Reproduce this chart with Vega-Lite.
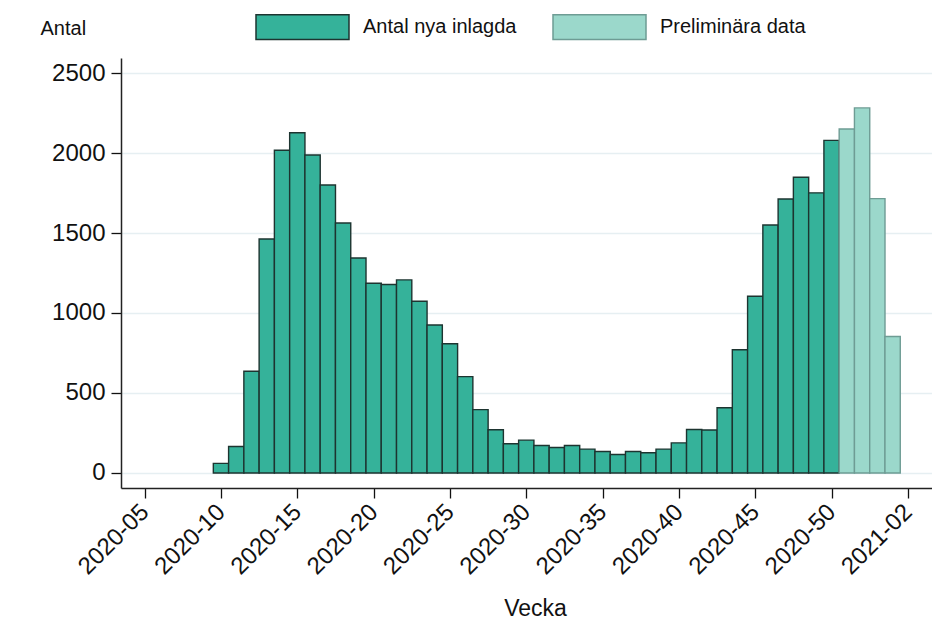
{
  "$schema": "https://vega.github.io/schema/vega-lite/v6.json",
  "width": 811,
  "height": 430,
  "autosize": "none",
  "padding": {"left": 121, "top": 58, "right": 0, "bottom": 142},
  "background": "white",
  "config": {
    "font": "Liberation Sans",
    "view": {"stroke": null},
    "axis": {"labelFont": "Liberation Sans", "titleFont": "Liberation Sans", "labelColor": "#111", "titleColor": "#111", "titleFontWeight": "normal"}
  },
  "data": {
    "values": [
      {"week": 10, "value": 60, "typ": "Antal nya inlagda"},
      {"week": 11, "value": 165, "typ": "Antal nya inlagda"},
      {"week": 12, "value": 636, "typ": "Antal nya inlagda"},
      {"week": 13, "value": 1463, "typ": "Antal nya inlagda"},
      {"week": 14, "value": 2017, "typ": "Antal nya inlagda"},
      {"week": 15, "value": 2127, "typ": "Antal nya inlagda"},
      {"week": 16, "value": 1988, "typ": "Antal nya inlagda"},
      {"week": 17, "value": 1800, "typ": "Antal nya inlagda"},
      {"week": 18, "value": 1563, "typ": "Antal nya inlagda"},
      {"week": 19, "value": 1344, "typ": "Antal nya inlagda"},
      {"week": 20, "value": 1186, "typ": "Antal nya inlagda"},
      {"week": 21, "value": 1178, "typ": "Antal nya inlagda"},
      {"week": 22, "value": 1207, "typ": "Antal nya inlagda"},
      {"week": 23, "value": 1073, "typ": "Antal nya inlagda"},
      {"week": 24, "value": 925, "typ": "Antal nya inlagda"},
      {"week": 25, "value": 808, "typ": "Antal nya inlagda"},
      {"week": 26, "value": 602, "typ": "Antal nya inlagda"},
      {"week": 27, "value": 396, "typ": "Antal nya inlagda"},
      {"week": 28, "value": 270, "typ": "Antal nya inlagda"},
      {"week": 29, "value": 183, "typ": "Antal nya inlagda"},
      {"week": 30, "value": 205, "typ": "Antal nya inlagda"},
      {"week": 31, "value": 172, "typ": "Antal nya inlagda"},
      {"week": 32, "value": 159, "typ": "Antal nya inlagda"},
      {"week": 33, "value": 172, "typ": "Antal nya inlagda"},
      {"week": 34, "value": 149, "typ": "Antal nya inlagda"},
      {"week": 35, "value": 134, "typ": "Antal nya inlagda"},
      {"week": 36, "value": 115, "typ": "Antal nya inlagda"},
      {"week": 37, "value": 134, "typ": "Antal nya inlagda"},
      {"week": 38, "value": 126, "typ": "Antal nya inlagda"},
      {"week": 39, "value": 149, "typ": "Antal nya inlagda"},
      {"week": 40, "value": 188, "typ": "Antal nya inlagda"},
      {"week": 41, "value": 272, "typ": "Antal nya inlagda"},
      {"week": 42, "value": 269, "typ": "Antal nya inlagda"},
      {"week": 43, "value": 408, "typ": "Antal nya inlagda"},
      {"week": 44, "value": 770, "typ": "Antal nya inlagda"},
      {"week": 45, "value": 1105, "typ": "Antal nya inlagda"},
      {"week": 46, "value": 1550, "typ": "Antal nya inlagda"},
      {"week": 47, "value": 1713, "typ": "Antal nya inlagda"},
      {"week": 48, "value": 1849, "typ": "Antal nya inlagda"},
      {"week": 49, "value": 1751, "typ": "Antal nya inlagda"},
      {"week": 50, "value": 2079, "typ": "Antal nya inlagda"},
      {"week": 51, "value": 2150, "typ": "Preliminära data"},
      {"week": 52, "value": 2282, "typ": "Preliminära data"},
      {"week": 53, "value": 1715, "typ": "Preliminära data"},
      {"week": 54, "value": 853, "typ": "Preliminära data"}
    ]
  },
  "mark": {"type": "bar", "width": 15.3, "strokeWidth": 1.4, "opacity": 1},
  "encoding": {
    "x": {
      "field": "week",
      "type": "quantitative",
      "scale": {"domain": [3.45, 56.58], "nice": false, "zero": false, "padding": 0},
      "axis": {
        "values": [5, 10, 15, 20, 25, 30, 35, 40, 45, 50, 55],
        "labelExpr": "datum.value <= 53 ? '2020-' + (datum.value < 10 ? '0' : '') + datum.value : '2021-0' + (datum.value - 53)",
        "labelAngle": -45,
        "labelAlign": "right",
        "labelBaseline": "middle",
        "labelFontSize": 24,
        "labelPadding": 10,
        "labelOverlap": false,
        "labelBound": false,
        "labelFlush": false,
        "tickSize": 10,
        "tickColor": "#111",
        "tickWidth": 1.3,
        "domainColor": "#222",
        "domainWidth": 1.5,
        "grid": false,
        "title": "Vecka",
        "titleFontSize": 23,
        "titleX": 414,
        "titleY": 120,
        "titleBaseline": "middle",
        "titleAnchor": null,
        "titleAlign": "center"
      }
    },
    "y": {
      "field": "value",
      "type": "quantitative",
      "scale": {"domain": [-94, 2594], "nice": false, "zero": false, "padding": 0},
      "axis": {
        "values": [0, 500, 1000, 1500, 2000, 2500],
        "format": "d",
        "labelFontSize": 24,
        "labelPadding": 6,
        "tickSize": 10,
        "tickColor": "#111",
        "tickWidth": 1.3,
        "domainColor": "#222",
        "domainWidth": 1.5,
        "grid": true,
        "gridColor": "#e6eff2",
        "gridWidth": 1.5,
        "title": "Antal",
        "titleAngle": 0,
        "titleFontSize": 20,
        "titleAlign": "left",
        "titleBaseline": "middle",
        "titleX": -81,
        "titleY": -30
      }
    },
    "fill": {
      "field": "typ",
      "type": "nominal",
      "scale": {"domain": ["Antal nya inlagda", "Preliminära data"], "range": ["#35b29a", "#9bd8cb"]},
      "legend": {
        "title": null,
        "orient": "none",
        "direction": "horizontal",
        "legendX": 134,
        "legendY": -78.5,
        "padding": 0,
        "symbolType": "M-1,-0.265L1,-0.265L1,0.265L-1,0.265Z",
        "symbolSize": 8649,
        "symbolStrokeWidth": 1.5,
        "symbolOpacity": 1,
        "labelFont": "Liberation Sans",
        "labelFontSize": 20,
        "labelColor": "#111",
        "labelOffset": 13,
        "columnPadding": 33,
        "labelLimit": 300
      }
    },
    "stroke": {
      "field": "typ",
      "type": "nominal",
      "scale": {"domain": ["Antal nya inlagda", "Preliminära data"], "range": ["#1d3430", "#6e9c94"]},
      "legend": null
    }
  }
}
